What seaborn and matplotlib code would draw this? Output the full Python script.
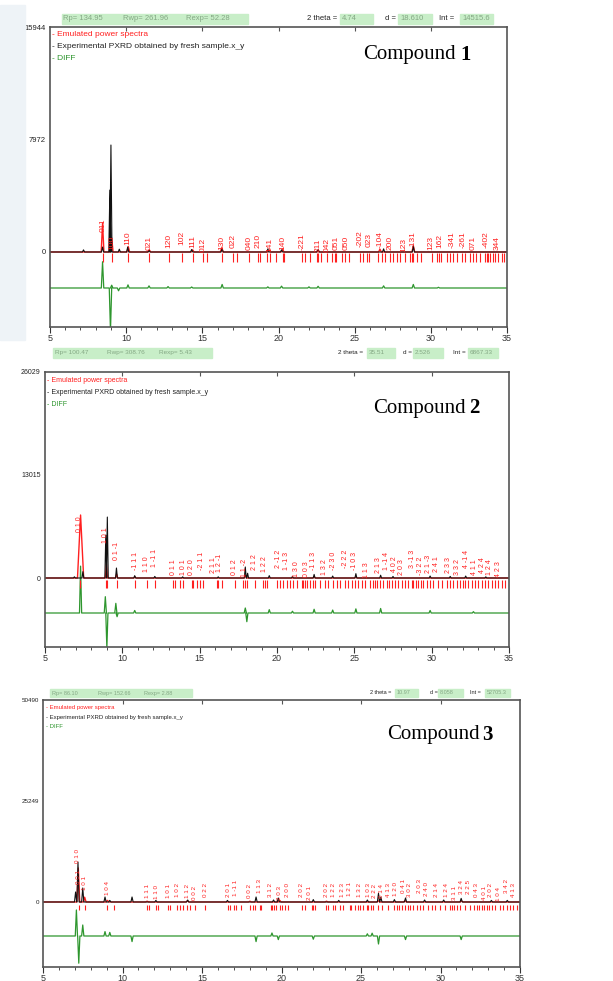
import numpy as np
import pandas as pd
import seaborn as sns
import matplotlib.pyplot as plt
from matplotlib.patches import Rectangle

# ---------------- data ----------------
# y axis limits / tick values of each panel
ymax = [15944, 26029, 50490]
ymid = [7972, 13015, 25249]
ymin = [-5315, -8718, -16250]

# header boxes
rp_txt = ["Rp= 134.95", "Rp= 100.47", "Rp= 86.10"]
rwp_txt = ["Rwp= 261.96", "Rwp= 308.76", "Rwp= 152.66"]
rexp_txt = ["Rexp= 52.28", "Rexp= 5.43", "Rexp= 2.88"]
theta_txt = ["4.74", "35.51", "10.97"]
d_txt = ["18.610", "2.526", "8.058"]
int_txt = ["14515.6", "6867.33", "52705.3"]
compounds = ["1", "2", "3"]
legend_txt = ["- Emulated power spectra",
              "- Experimental PXRD obtained by fresh sample.x_y",
              "- DIFF"]

# compound 1
exp1_pos = [7.2, 8.45, 8.93, 9.0, 9.55, 10.1, 11.5, 14.3, 16.3, 19.3, 20.2, 22.6, 26.9, 28.85]
exp1_int = [150, 350, 4390, 7580, 200, 350, 120, 180, 250, 220, 150, 160, 220, 420]
sim1_pos = [8.45, 9.05, 10.14, 11.52, 14.37, 16.27, 19.4, 20.27, 22.6, 26.66, 28.85]
sim1_int = [2050, 1000, 380, 150, 150, 300, 150, 200, 150, 200, 450]
diff1_base = -2551
diff1_pos = [8.45, 8.97, 9.05, 9.5, 10.12, 11.5, 12.75, 14.3, 16.3, 19.3, 20.2, 22.0, 22.6, 26.9, 28.85, 30.5]
diff1_val = [-690, -5600, -2350, -2750, -2330, -2400, -2450, -2480, -2300, -2470, -2420, -2470, -2430, -2400, -2300, -2500]
tick1 = [8.50, 9.05, 10.14, 11.52, 12.83, 13.64, 14.37, 15.07, 15.28, 16.27, 17.03, 17.25, 18.09,
         18.68, 18.79, 19.22, 19.44, 19.84, 20.27, 20.36, 21.52, 21.74, 22.07, 22.50, 22.60, 22.80,
         23.16, 23.49, 23.70, 23.80, 24.15, 24.37, 24.65, 25.35, 25.57, 25.79, 25.96, 26.55, 26.77,
         26.99, 27.32, 27.54, 27.76, 27.98, 28.30, 28.63, 28.74, 28.85, 29.07, 29.33, 30.05, 30.38,
         30.56, 30.65, 31.04, 31.26, 31.48, 31.74, 32.02, 32.24, 32.57, 32.79, 32.96, 33.23, 33.55,
         33.66, 33.77, 33.88, 34.06, 34.21, 34.43, 34.65, 34.80]
lab1_pos = [8.50, 9.05, 10.14, 11.52, 12.83, 13.64, 14.37, 15.07, 16.27, 17.03, 18.09, 18.68, 19.40,
            20.27, 21.52, 22.62, 23.16, 23.77, 24.41, 25.35, 25.94, 26.66, 27.32, 28.20, 28.85, 29.99,
            30.60, 31.37, 32.09, 32.75, 33.66, 34.36]
lab1_txt = ["011", "100", "110", "021", "120", "102", "111", "012", "130", "022", "040", "210", "141",
            "140", "-221", "211", "042", "051", "050", "-202", "023", "-104", "200", "123", "-131", "123",
            "162", "-341", "-261", "071", "-402", "344"]
lab1_y = [1440, 140, 500, 140, 260, 500, 260, 0, 140, 260, 140, 260, 0, 140, 140, 0, 0, 140, 140,
          380, 380, 260, 140, 0, 260, 140, 260, 260, 260, 140, 260, 140]

# compound 2
exp2_pos = [6.9, 7.45, 8.93, 9.03, 9.62, 10.8, 12.1, 13.9, 16.2, 17.95, 18.1, 19.5, 21.0, 22.4, 23.6,
            25.1, 26.7, 27.5, 29.9, 31.2, 32.2, 33.5]
exp2_int = [150, 800, 5430, 7700, 1260, 300, 200, 150, 150, 1390, 600, 300, 200, 450, 250, 550, 350,
            200, 250, 200, 250, 150]
sim2_pos = [7.3, 8.97, 9.63, 10.82, 17.95, 22.4, 25.1]
sim2_int = [7960, 1800, 500, 150, 350, 150, 150]
diff2_base = -4422
diff2_pos = [7.3, 8.9, 9.0, 9.58, 9.66, 10.8, 17.95, 18.05, 19.5, 21.0, 22.4, 23.6, 25.1, 26.7, 29.9, 32.7]
diff2_val = [1500, -2360, -8900, -3200, -4890, -4100, -3790, -5520, -4000, -4200, -3950, -4050, -3900,
             -3850, -4100, -4250]
tick2 = [7.26, 8.94, 9.03, 9.63, 10.82, 11.57, 12.11, 13.30, 13.40, 13.73, 13.94, 14.48, 14.59, 14.80,
         15.02, 15.23, 16.10, 16.20, 16.42, 17.28, 17.82, 17.93, 18.04, 18.57, 19.11, 19.22, 19.33,
         19.98, 20.19, 20.41, 20.62, 20.84, 21.05, 21.27, 21.59, 21.70, 21.81, 21.91, 22.13, 22.35,
         22.45, 22.78, 23.10, 23.32, 23.64, 23.85, 24.07, 24.39, 24.61, 24.82, 25.04, 25.25, 25.47,
         25.69, 26.01, 26.22, 26.33, 26.44, 26.65, 26.87, 27.09, 27.26, 27.41, 27.62, 27.84, 28.06,
         28.27, 28.49, 28.70, 28.81, 28.98, 29.13, 29.28, 29.46, 29.67, 29.89, 30.10, 30.43, 30.64,
         30.96, 31.18, 31.40, 31.61, 31.83, 32.00, 32.15, 32.37, 32.58, 32.80, 33.01, 33.23, 33.44,
         33.66, 33.87, 34.09, 34.30, 34.52, 34.74]
lab2_pos = [7.26, 8.94, 9.63, 10.82, 11.57, 12.11, 13.30, 13.94, 14.48, 15.13, 15.88, 16.31, 17.28,
            17.88, 18.57, 19.22, 20.08, 20.62, 21.27, 21.92, 22.39, 23.10, 23.64, 24.44, 25.04, 25.79,
            26.55, 27.09, 27.62, 28.06, 28.74, 29.29, 29.78, 30.32, 31.07, 31.65, 32.26, 32.75, 33.29,
            33.77, 34.35]
lab2_txt = ["0 1 0", "1 0 1", "0 1 -1", "-1 1 1", "1 1 0", "1 -1 1", "0 1 1", "1 0 1", "0 2 0",
            "-2 1 1", "2 1 1", "1 2 -1", "0 1 2", "1 1 -2", "2 1 2", "1 2 2", "2 -1 2", "1 -1 3",
            "1 3 0", "0 0 3", "-1 1 3", "1 3 2", "-2 3 0", "-2 2 2", "-1 0 3", "1 1 3", "2 1 3",
            "1 -1 4", "4 0 2", "2 0 3", "3 -1 3", "-3 2 2", "2 1 -3", "2 4 1", "2 3 3", "3 3 2",
            "4 -1 4", "4 1 1", "4 2 4", "1 2 4", "4 2 3"]
lab2_y = [5850, 4380, 2270, 1010, 800, 1430, 380, 380, 380, 1010, 590, 800, 380, 170, 1010, 800, 1220,
          1010, 170, 170, 1010, 380, 1010, 1220, 1010, 0, 590, 1010, 800, 380, 1220, 380, 590, 800,
          590, 380, 1220, 380, 590, 380, 170]

# compound 3
exp3_pos = [7.05, 7.2, 7.5, 8.9, 9.2, 10.6, 12.1, 14.1, 16.6, 18.4, 19.5, 19.8, 22.0, 23.6, 25.4,
            26.1, 26.25, 27.1, 27.8, 29.0, 30.2, 31.3, 33.2, 34.2]
exp3_int = [2500, 10000, 3500, 1250, 400, 1250, 400, 500, 400, 1250, 500, 1000, 600, 400, 500, 2170,
            1200, 600, 1000, 500, 500, 900, 400, 400]
sim3_pos = [7.22, 7.62, 9.05, 11.55, 14.08, 18.01, 19.89, 22.83, 26.08, 27.76, 31.33]
sim3_int = [8500, 1200, 400, 200, 300, 200, 400, 200, 300, 300, 250]
diff3_base = -8500
diff3_pos = [7.1, 7.25, 7.5, 8.9, 9.2, 10.6, 18.4, 19.4, 19.8, 22.0, 25.4, 25.7, 26.1, 27.8, 31.3]
diff3_val = [-2000, -15300, -5750, -7400, -7600, -9900, -9900, -7750, -9400, -9300, -7950, -7800,
             -10500, -9400, -9400]
tick3 = [7.24, 7.62, 9.05, 9.47, 11.55, 11.65, 12.13, 12.24, 12.87, 12.97, 13.45, 13.60, 13.81, 14.08,
         14.23, 14.54, 15.22, 16.64, 16.75, 17.00, 17.13, 17.48, 18.01, 18.22, 18.32, 18.64, 18.74,
         19.33, 19.41, 19.54, 19.68, 19.89, 20.00, 20.25, 20.38, 21.26, 21.47, 21.89, 21.99, 22.10,
         22.83, 22.94, 23.25, 23.36, 23.67, 23.88, 24.30, 24.40, 24.61, 24.78, 24.93, 25.14, 25.35,
         25.45, 25.62, 25.77, 26.08, 26.29, 26.71, 27.09, 27.24, 27.38, 27.55, 27.76, 27.93, 28.08,
         28.29, 28.50, 28.70, 28.91, 29.23, 29.44, 29.65, 29.96, 30.28, 30.59, 30.74, 30.87, 31.01,
         31.22, 31.54, 31.85, 32.12, 32.27, 32.42, 32.59, 32.76, 32.90, 33.05, 33.22, 33.43, 33.74,
         33.95, 34.16, 34.37, 34.58, 34.79]
lab3_pos = [7.20, 7.26, 7.62, 9.05, 11.55, 12.13, 12.87, 13.45, 14.08, 14.54, 15.22, 16.64, 17.13,
            18.01, 18.64, 19.33, 19.89, 20.38, 21.26, 21.78, 22.83, 23.25, 23.82, 24.30, 24.93, 25.45,
            25.83, 26.29, 26.71, 27.19, 27.66, 28.08, 28.70, 29.12, 29.75, 30.38, 30.87, 31.33, 31.75,
            32.27, 32.76, 33.17, 33.64, 34.16, 34.58]
lab3_txt = ["0 1 0", "0 0 1", "1 0 1", "1 0 4", "1 1 1", "1 1 0", "1 0 1", "1 0 2", "1 1 2", "0 0 2",
            "0 2 2", "2 0 1", "1 -1 1", "0 0 2", "1 1 3", "3 1 2", "2 0 3", "2 0 0", "2 0 2", "2 0 1",
            "2 0 2", "1 2 2", "1 2 3", "1 2 1", "1 3 2", "1 0 3", "2 2 2", "0 1 4", "4 1 3", "1 2 0",
            "0 4 1", "3 0 2", "2 0 3", "2 4 0", "2 1 4", "1 2 4", "3 1 1", "3 2 4", "2 2 5", "0 4 3",
            "4 0 1", "2 0 2", "1 0 4", "3 4 2", "4 1 3"]
lab3_y = [9700, 4600, 3000, 1800, 1000, 800, 1000, 1300, 1000, 500, 1300, 1300, 1500, 1000, 2200,
          1300, 500, 1300, 1300, 500, 1300, 1300, 1300, 1600, 1300, 1300, 900, 900, 1300, 1600, 2200,
          1300, 2200, 1600, 1300, 1300, 500, 1900, 1900, 1300, 500, 1300, 300, 2200, 1300]


def profile(pos, val, base, hw):
    hw = np.broadcast_to(np.asarray(hw, float), (len(pos),))
    xs, ys = [5.0], [base]
    for i in np.argsort(pos):
        xs += [pos[i] - hw[i], pos[i], pos[i] + hw[i]]
        ys += [base, val[i], base]
    xs.append(35.0)
    ys.append(base)
    return pd.DataFrame({"two_theta": xs, "intensity": ys})


sns.set_theme(style="white")
plt.rcParams["font.family"] = ["Liberation Sans", "DejaVu Sans"]

W, H = 613, 981
fig = plt.figure(figsize=(W / 100, H / 100), dpi=100)
fig.patch.set_facecolor("white")


def fx(x):
    return x / W


def fy(y):
    return 1 - y / H


RED, BLACK, GREEN = "#ff2020", "#111111", "#2e962e"
BOX, BOXTXT = "#c8eec8", "#84a884"

# faint tinted strip left of the first panel
fig.patches.append(Rectangle((0, fy(340)), fx(25), fy(5) - fy(340), transform=fig.transFigure,
                             color="#eef3f7", zorder=0))

panels = [
    dict(box=(50, 27, 507, 327), exp=(exp1_pos, exp1_int, 0.07), sim=(sim1_pos, sim1_int, 0.09),
         diff=(diff1_pos, diff1_val, diff1_base, 0.08), ticks=tick1, tk=(-90, -690),
         lab=(lab1_pos, lab1_txt, lab1_y), lfs=6, fs=5.5, hfs=5.5, gfs=6,
         hdr_y=(14, 24), rb=(62, 248), rx=(63, 123, 186),
         right=(307, (340, 373), 385, (398, 432), 439, (460, 493)),
         leg=(52, (35, 47, 59)), comp=(363, 460, 55)),
    dict(box=(45, 372, 509, 647), exp=(exp2_pos, exp2_int, 0.06),
         sim=(sim2_pos, sim2_int, [0.2, 0.07, 0.07, 0.07, 0.08, 0.08, 0.08]),
         diff=(diff2_pos, diff2_val, diff2_base, 0.07), ticks=tick2, tk=(-250, -1260),
         lab=(lab2_pos, lab2_txt, lab2_y), lfs=5, fs=5, hfs=4.6, gfs=5,
         hdr_y=(348, 358), rb=(53, 212), rx=(55, 107, 159),
         right=(338, (367, 395), 403, (413, 443), 453, (468, 498)),
         leg=(47, (380, 392, 405)), comp=(373, 469, 408)),
    dict(box=(43, 700, 520, 967), exp=(exp3_pos, exp3_int, 0.07), sim=(sim3_pos, sim3_int, 0.09),
         diff=(diff3_pos, diff3_val, diff3_base, 0.07), ticks=tick3, tk=(-750, -2000),
         lab=(lab3_pos, lab3_txt, lab3_y), lfs=4.5, fs=4.5, hfs=4.0, gfs=4.3,
         hdr_y=(689, 697), rb=(50, 192), rx=(52, 98, 144),
         right=(370, (395, 418), 430, (438, 463), 470, (485, 510)),
         leg=(46, (707, 717, 727)), comp=(387, 482, 735)),
]

for k, p in enumerate(panels):
    l, t, r, b = p["box"]
    ax = fig.add_axes([fx(l), fy(b), fx(r) - fx(l), fy(t) - fy(b)])
    ax.set_facecolor("white")

    d = p["diff"]
    sns.lineplot(data=profile(d[0], d[1], d[2], d[3]), x="two_theta", y="intensity", sort=False,
                 estimator=None, color=GREEN, lw=0.9, ax=ax)
    s = p["sim"]
    sns.lineplot(data=profile(s[0], s[1], 0, s[2]), x="two_theta", y="intensity", sort=False,
                 estimator=None, color=RED, lw=1.0, ax=ax)
    e = p["exp"]
    sns.lineplot(data=profile(e[0], e[1], 0, e[2]), x="two_theta", y="intensity", sort=False,
                 estimator=None, color=BLACK, lw=0.8, ax=ax)
    ax.vlines(p["ticks"], p["tk"][0], p["tk"][1], color=RED, lw=0.8)
    for xp, txt, yb in zip(*p["lab"]):
        ax.text(xp, yb, txt, rotation=90, ha="center", va="bottom", color=RED,
                fontsize=p["lfs"], clip_on=True)

    ax.set_xlim(5, 35)
    ax.set_ylim(ymin[k], ymax[k])
    ax.set_xlabel("")
    ax.set_ylabel("")
    ax.set_xticks(range(5, 36, 5))
    ax.set_xticks(range(5, 36), minor=True)
    ax.set_yticks([0, ymid[k], ymax[k]])
    ax.set_yticklabels(["0", str(ymid[k]), str(ymax[k])])
    ax.tick_params(axis="x", which="major", direction="out", length=4, width=0.8, labelsize=6.5,
                   pad=1, colors="#333333", bottom=True)
    ax.tick_params(axis="x", which="minor", direction="out", length=2, width=0.6,
                   colors="#333333", bottom=True)
    ax.tick_params(axis="y", length=0, labelsize=p["fs"], pad=3, colors="#222222")
    top = ax.secondary_xaxis("top")
    top.set_xticks(range(10, 35, 5))
    top.tick_params(direction="in", length=3, width=0.8, labeltop=False, colors="#555555")
    top.spines["top"].set_visible(False)
    for sp in ax.spines.values():
        sp.set_color("#555555")
        sp.set_linewidth(1.2)

    # header boxes
    hfs = p["hfs"]
    y0, y1 = p["hdr_y"]
    ym = fy((y0 + y1) / 2)

    def box(x0, x1):
        fig.patches.append(Rectangle((fx(x0), fy(y1)), fx(x1) - fx(x0), fy(y0) - fy(y1),
                                     transform=fig.transFigure, color=BOX, zorder=1))

    box(*p["rb"])
    for xt, txt in zip(p["rx"], [rp_txt[k], rwp_txt[k], rexp_txt[k]]):
        fig.text(fx(xt), ym, txt, fontsize=hfs, color=BOXTXT, va="center", ha="left")
    rt = p["right"]
    for lx, lt, bx, bt in [(rt[0], "2 theta = ", rt[1], theta_txt[k]),
                           (rt[2], "d = ", rt[3], d_txt[k]),
                           (rt[4], "Int = ", rt[5], int_txt[k])]:
        fig.text(fx(lx), ym, lt, fontsize=hfs, color="#222222", va="center", ha="left")
        box(*bx)
        fig.text(fx(bx[0] + 2), ym, bt, fontsize=hfs, color=BOXTXT, va="center", ha="left")

    # legend lines
    lx, lys = p["leg"]
    for txt, col, yy in zip(legend_txt, [RED, "#222222", GREEN], lys):
        fig.text(fx(lx), fy(yy), txt, fontsize=p["gfs"], color=col, va="center", ha="left")

    cx, nx, cy = p["comp"]
    fig.text(fx(cx), fy(cy), "Compound", fontsize=15, family="Liberation Serif", va="center",
             ha="left", color="black")
    fig.text(fx(nx), fy(cy), compounds[k], fontsize=15, family="Liberation Serif", weight="bold",
             va="center", ha="left", color="black")

fig.savefig("out.png", dpi=100, facecolor="white")
